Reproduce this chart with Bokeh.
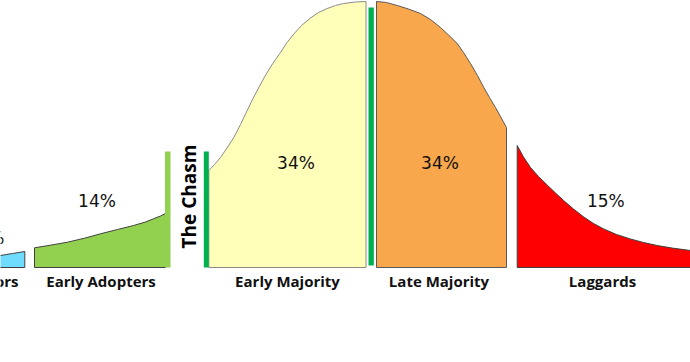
from bokeh.plotting import figure
from bokeh.models import Range1d
from bokeh.embed import file_html
from bokeh.resources import INLINE
from bokeh.core.properties import value
import math

# ---------------- data ----------------
segments = ["Innovators", "Early Adopters", "Early Majority", "Late Majority", "Laggards"]
shares = ["2.5%", "14%", "34%", "34%", "15%"]

# top edge of each segment of the adoption curve (x position, curve height)
innov_x = [-40, -20, 0, 12, 24.3]
innov_h = [8, 10, 12, 14, 16]

adopt_x = [34, 50, 67, 84, 100, 117, 133, 145, 153, 160, 165]
adopt_h = [19.7, 22.3, 25.3, 29.3, 33.7, 38, 42, 45.5, 48.7, 51.5, 54]

early_x = [208.3, 214, 220, 226.5, 233.3, 240, 246.7, 252.5, 258.3, 264, 270, 275, 280, 286.5, 293.3, 301,
           310, 318, 326.7, 335, 343.3, 355, 365.5]
early_h = [97, 103, 110, 119.5, 130, 143, 157, 169, 180, 190.5, 200.5, 208, 215, 225, 233.5, 242,
           249.5, 255, 259, 262, 264, 265.5, 266]

late_x = [376, 386, 396.7, 408, 420, 430, 440, 448, 456.7, 463, 470, 477, 483.3, 489, 495, 500.5, 506]
late_h = [266, 265, 262, 258.5, 254, 248, 240, 232.5, 224, 215, 204, 192, 180, 170, 160, 150, 140]

lag_x = [516.7, 523, 530, 538, 546.7, 555, 563.3, 573, 583.3, 593, 603.3, 616, 630, 643, 656.7, 672, 690, 700]
lag_h = [122, 110.5, 100, 91, 82.5, 74.5, 66.8, 58.5, 50.5, 44, 38.5, 33, 28.5, 25, 22, 19.4, 17, 16]

colors = ["#6FDCFF", "#92D050", "#FFFFBA", "#F8A74C", "#FF0000"]
chasm_color = "#00B050"

# ---------------- figure ----------------
p = figure(width=690, height=362, output_backend="svg", toolbar_location=None,
           x_range=Range1d(0, 690), y_range=Range1d(-95, 267),
           x_axis_location=None, y_axis_location=None, min_border=0)
p.outline_line_color = None
p.xgrid.visible = False
p.ygrid.visible = False
p.background_fill_color = "white"
p.border_fill_color = "white"

curves = [(innov_x, innov_h), (adopt_x, adopt_h), (early_x, early_h),
          (late_x, late_h), (lag_x, lag_h)]
outline = ["#404040", "#404040", "#8A8A8A", "#595959", "#404040"]

for (cx, ch), col, oc in zip(curves, colors, outline):
    xs = [cx[0]] + cx + [cx[-1]]
    ys = [0] + ch + [0]
    p.patch(xs, ys, fill_color=col, line_color=oc, line_width=1)

# early adopters tall strip at right edge
p.quad(left=[164.5], right=[170], bottom=[0], top=[116], fill_color=colors[1], line_color=None)

# chasm bars
p.quad(left=[203.3, 368], right=[208.3, 373.3], bottom=[0, 2], top=[116, 260],
       fill_color=chasm_color, line_color=None)

# percentage labels
pct_x = [4, 96.5, 295.5, 439.5, 605.3]
pct_y = [30, 67, 105, 105, 67]
for i, (px, py, t) in enumerate(zip(pct_x, pct_y, shares)):
    p.text(x=[px], y=[py], text=[t], text_align="right" if i == 0 else "center",
           text_baseline="middle", text_font=value("DejaVu Sans"),
           text_font_size="17px", text_color="#111111")

# segment names
lab_x = [18, 100.5, 287, 438.5, 602]
for i, (lx, t) in enumerate(zip(lab_x, segments)):
    p.text(x=[lx], y=[-13.5], text=[t], text_align="right" if i == 0 else "center",
           text_baseline="middle", text_font=value("Open Sans"), text_font_style="bold",
           text_font_size="15px", text_color="#111111")

# the chasm label
p.text(x=[188.5], y=[71], text=["The Chasm"], angle=math.pi / 2,
       text_align="center", text_baseline="middle", text_font=value("Open Sans"),
       text_font_style="bold", text_font_size="19px", text_color="#000000")

open("out.html", "w").write(file_html(p, INLINE))
